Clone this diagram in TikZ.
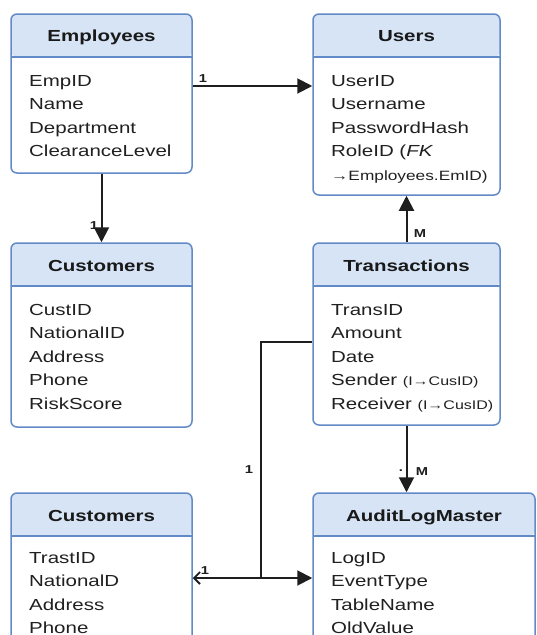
\documentclass[tikz,border=0pt]{standalone}
\usepackage{fontspec}
\setmainfont[FakeStretch=1.28]{Liberation Sans}
\usetikzlibrary{arrows.meta,calc}
\definecolor{hdrfill}{RGB}{214,228,246}
\definecolor{bordc}{RGB}{98,138,198}
\definecolor{txtc}{RGB}{32,32,32}
\definecolor{linec}{RGB}{30,30,30}
\tikzset{
  tbl/.style={draw=bordc, line width=1.5pt, rounded corners=6pt, fill=white, inner sep=0pt,
    path picture={
      \fill[hdrfill] (path picture bounding box.north west) rectangle ([yshift=-43pt]path picture bounding box.north east);
      \draw[bordc, line width=1.5pt] ([yshift=-43pt]path picture bounding box.north west) -- ([yshift=-43pt]path picture bounding box.north east);
    }},
  hdr/.style={font=\fontsize{16}{18}\selectfont\bfseries, text=black!90, inner sep=0pt, anchor=base},
  fld/.style={font=\fontsize{16}{18}\selectfont, text=txtc, inner sep=0pt, anchor=base west},
  sml/.style={font=\fontsize{13.5}{16}\selectfont, text=txtc, inner sep=0pt, anchor=base west},
  card/.style={font=\fontsize{11.5}{13}\selectfont\bfseries, text=linec, inner sep=0pt},
  conn/.style={draw=linec, line width=2pt},
  arr/.style={conn, -{Triangle[length=15pt,width=15pt]}},
  barb/.style={conn, -{Straight Barb[length=6pt,width=12pt,line width=1.8pt]}}
}
\begin{document}
\begin{tikzpicture}[x=1pt,y=-1pt]
\clip (0,0) rectangle (536,635);
\fill[white] (0,0) rectangle (536,635);
% tables
\node[tbl, minimum width=181pt, minimum height=159pt] (emp) at (101.5,93.5) {};
\node[tbl, minimum width=187pt, minimum height=181pt] (users) at (406.5,104.5) {};
\node[tbl, minimum width=181pt, minimum height=184pt] (cust1) at (101.5,335) {};
\node[tbl, minimum width=187pt, minimum height=182pt] (trans) at (406.5,334) {};
\node[tbl, minimum width=181pt, minimum height=207pt] (cust2) at (101.5,596.5) {};
\node[tbl, minimum width=222pt, minimum height=207pt] (audit) at (424,596.5) {};
% headers
\node[hdr] (empH) at (101.5,41) {Employees};
\node[hdr] (usersH) at (406.5,41) {Users};
\node[hdr] (cust1H) at (101.5,271) {Customers};
\node[hdr] (transH) at (406.5,271) {Transactions};
\node[hdr] (cust2H) at (101.5,521) {Customers};
\node[hdr] (auditH) at (424,521) {AuditLogMaster};
% Employees fields
\node[fld] (e1) at (29,86) {EmpID};
\node[fld] (e2) at (29,109.5) {Name};
\node[fld] (e3) at (29,133) {Department};
\node[fld] (e4) at (29,156.5) {ClearanceLevel};
% Users fields
\node[fld] (u1) at (331,86) {UserID};
\node[fld] (u2) at (331,109.5) {Username};
\node[fld] (u3) at (331,133) {PasswordHash};
\node[fld] (u4) at (331,156.5) {RoleID (\textit{FK}};
\node[sml] (u5) at (331,180) {→Employees.EmID)};
% Customers 1
\node[fld] (c1) at (29,315) {CustID};
\node[fld] (c2) at (29,338.5) {NationalID};
\node[fld] (c3) at (29,362) {Address};
\node[fld] (c4) at (29,385.5) {Phone};
\node[fld] (c5) at (29,409) {RiskScore};
% Transactions
\node[fld] (t1) at (331,315) {TransID};
\node[fld] (t2) at (331,338.5) {Amount};
\node[fld] (t3) at (331,362) {Date};
\node[fld] (t4) at (331,385.5) {Sender {\fontsize{12.5}{14}\selectfont (I→CusID)}};
\node[fld] (t5) at (331,409) {Receiver {\fontsize{12.5}{14}\selectfont (I→CusID)}};
% Customers 2
\node[fld] (d1) at (29,563) {TrastID};
\node[fld] (d2) at (29,586.5) {NationalD};
\node[fld] (d3) at (29,610) {Address};
\node[fld] (d4) at (29,633.5) {Phone};
% Audit
\node[fld] (a1) at (331,563) {LogID};
\node[fld] (a2) at (331,586.5) {EventType};
\node[fld] (a3) at (331,610) {TableName};
\node[fld] (a4) at (331,633.5) {OldValue};
% connectors
\draw[arr] ([yshift=7.5pt]emp.east) -- ([yshift=7.5pt]emp.east -| users.west);
\node[card] (l1) at (203,79) {1};
\draw[arr] (emp.south) -- (cust1.north);
\node[card] (l2) at (94,226) {1};
\draw[arr] (trans.north) -- (users.south);
\node[card] (l3) at (420,234) {M};
\draw[arr] (trans.south) -- (trans.south |- audit.north);
\node[card] (l4) at (422,472) {M};
\node[card] (l5) at (401,471) {.};
\coordinate (j) at (261,578);
\draw[conn] ([yshift=-8pt]trans.west) -| (j);
\draw[arr] (j) -- (j -| audit.west);
\draw[barb] (j) -- (j -| cust2.east);
\node[card] (l6) at (249,470) {1};
\node[card] (l7) at (205,571) {1};
\end{tikzpicture}
\end{document}
